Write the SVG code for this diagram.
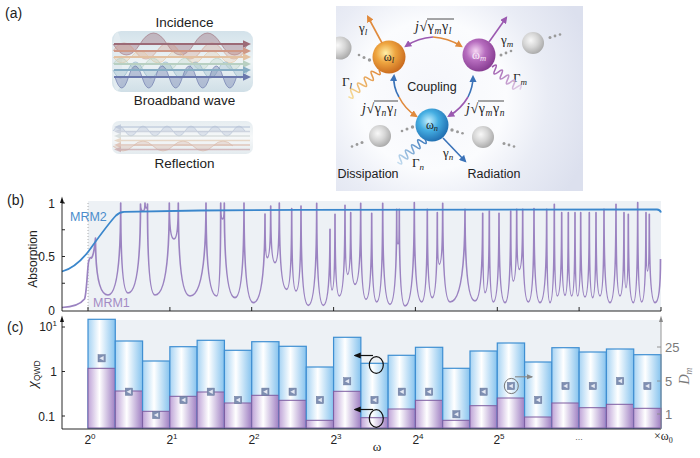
<svg xmlns="http://www.w3.org/2000/svg" width="700" height="458" viewBox="0 0 700 458">
<style>
.t{font-family:"Liberation Sans",Arial,sans-serif;fill:#222}
.lb{font-size:13.5px}
.tk{font-size:12px}
.m{font-family:"Liberation Serif","Times New Roman",serif;fill:#222}
.gr{fill:#7a7a7a}
.ax{stroke:#111;stroke-width:0.9;fill:none}
.bb{fill:url(#gB);stroke:#3f8fd2;stroke-width:1.2}
.pb{fill:url(#gP);stroke:#7e5ca0;stroke-width:1}
.dots circle{fill:#9a9a9a}
.wv{stroke-width:1}
.ar{fill:none;stroke-width:1.6}
.sq{fill:none;stroke-width:1.6}
</style>
<defs>
<linearGradient id="gB" x1="0" y1="0" x2="1" y2="0"><stop offset="0" stop-color="#a6d3f3"/><stop offset="0.42" stop-color="#ffffff"/><stop offset="1" stop-color="#86c3ee"/></linearGradient>
<linearGradient id="gP" x1="0" y1="0" x2="1" y2="0"><stop offset="0" stop-color="#bea3d7"/><stop offset="0.42" stop-color="#ffffff"/><stop offset="1" stop-color="#9e7ec2"/></linearGradient>
<linearGradient id="cyl" x1="0" y1="0" x2="0" y2="1"><stop offset="0" stop-color="#d3e2ea"/><stop offset="0.5" stop-color="#eef4f6"/><stop offset="1" stop-color="#d0dfe7"/></linearGradient>
<linearGradient id="cyl2" x1="0" y1="0" x2="0" y2="1"><stop offset="0" stop-color="#e6edf1"/><stop offset="0.5" stop-color="#f6f8f9"/><stop offset="1" stop-color="#e4ebef"/></linearGradient>
<radialGradient id="boxG" cx="432" cy="95" r="165" gradientUnits="userSpaceOnUse"><stop offset="0" stop-color="#f5f6fb"/><stop offset="0.45" stop-color="#fbfcfe"/><stop offset="0.7" stop-color="#e9ecf5"/><stop offset="1" stop-color="#dce0ee"/></radialGradient>
<radialGradient id="sO" cx="0.4" cy="0.38" r="0.65"><stop offset="0" stop-color="#fff0a8"/><stop offset="0.45" stop-color="#eea540"/><stop offset="1" stop-color="#c8681c"/></radialGradient>
<radialGradient id="sP" cx="0.4" cy="0.38" r="0.65"><stop offset="0" stop-color="#f6d6f4"/><stop offset="0.45" stop-color="#b66cbe"/><stop offset="1" stop-color="#853b90"/></radialGradient>
<radialGradient id="sN" cx="0.4" cy="0.38" r="0.65"><stop offset="0" stop-color="#c4f0ff"/><stop offset="0.45" stop-color="#45aee2"/><stop offset="1" stop-color="#1f6db0"/></radialGradient>
<radialGradient id="sG" cx="0.4" cy="0.38" r="0.65"><stop offset="0" stop-color="#f8f8f8"/><stop offset="0.5" stop-color="#d6d6d6"/><stop offset="1" stop-color="#a9a9a9"/></radialGradient>
<linearGradient id="qO" x1="0" y1="0" x2="40" y2="0" gradientUnits="userSpaceOnUse"><stop offset="0" stop-color="#e0883a"/><stop offset="1" stop-color="#f6dc98"/></linearGradient>
<linearGradient id="qP" x1="0" y1="0" x2="36" y2="0" gradientUnits="userSpaceOnUse"><stop offset="0" stop-color="#9b56ab"/><stop offset="1" stop-color="#e2cfe8"/></linearGradient>
<linearGradient id="qN" x1="0" y1="0" x2="36" y2="0" gradientUnits="userSpaceOnUse"><stop offset="0" stop-color="#3a78bc"/><stop offset="1" stop-color="#c6def0"/></linearGradient>
<marker id="aO" viewBox="0 0 10 10" refX="7" refY="5" markerWidth="4.5" markerHeight="4.5" orient="auto"><path d="M0,0 L10,5 L0,10 z" fill="#e08a3c"/></marker>
<marker id="aP" viewBox="0 0 10 10" refX="7" refY="5" markerWidth="4.5" markerHeight="4.5" orient="auto"><path d="M0,0 L10,5 L0,10 z" fill="#9b59b0"/></marker>
<marker id="aB" viewBox="0 0 10 10" refX="7" refY="5" markerWidth="4.5" markerHeight="4.5" orient="auto"><path d="M0,0 L10,5 L0,10 z" fill="#3a72b8"/></marker>
<marker id="aK" viewBox="0 0 10 10" refX="8" refY="5" markerWidth="6" markerHeight="6" orient="auto"><path d="M0,1 L10,5 L0,9 z" fill="#111"/></marker>
<marker id="aG" viewBox="0 0 10 10" refX="8" refY="5" markerWidth="6" markerHeight="6" orient="auto"><path d="M0,1 L10,5 L0,9 z" fill="#888"/></marker>
<clipPath id="boxClip"><rect x="336" y="6" width="247" height="185"/></clipPath>
<g id="mk"><rect x="-3.6" y="-3.6" width="7.2" height="7.2" fill="#7f8fb2" stroke="#66769a" stroke-width="0.5"/><polygon points="2,-2.3 2,2.3 -2.3,0" fill="#e4e8f2"/></g>
</defs>
<rect width="700" height="458" fill="#fff"/>

<!-- Panel (a) left -->
<g id="panel-a-left">
<text class="t" x="5" y="18" font-size="14">(a)</text>
<text class="t lb" x="184.5" y="27" text-anchor="middle">Incidence</text>
<rect x="112" y="31" width="141" height="61" rx="9" fill="url(#cyl)"/>
<ellipse cx="117" cy="61.5" rx="5" ry="29.5" fill="#e2ebf0"/>
<path class="wv" d="M113,44 Q126.5,66 140,44 T167,44 T194,44 T221,44 T248,44" fill="#9c6a76" fill-opacity="0.38" stroke="#9c6a76" stroke-opacity="0.6"/>
<path class="wv" d="M113,51 Q124,35 135,51 T157,51 T179,51 T201,51 T223,51 T245,51" fill="#d29c88" fill-opacity="0.32" stroke="#d29c88" stroke-opacity="0.6"/>
<path class="wv" d="M113,57 Q122,69 131,57 T149,57 T167,57 T185,57 T203,57 T221,57 T239,57" fill="#e6c6a4" fill-opacity="0.3" stroke="#e6c6a4" stroke-opacity="0.6"/>
<path class="wv" d="M113,64 Q121,52 129,64 T145,64 T161,64 T177,64 T193,64 T209,64 T225,64 T241,64" fill="#b6cfc0" fill-opacity="0.3" stroke="#b6cfc0" stroke-opacity="0.6"/>
<path class="wv" d="M113,70 Q120.5,86 128,70 T143,70 T158,70 T173,70 T188,70 T203,70 T218,70 T233,70 T248,70" fill="#8db3c7" fill-opacity="0.3" stroke="#8db3c7" stroke-opacity="0.6"/>
<path class="wv" d="M115,77 Q121.75,99 128.5,77 T142,77 T155.5,77 T169,77 T182.5,77 T196,77 T209.5,77 T223,77 T236.5,77" fill="#6f7cae" fill-opacity="0.38" stroke="#6f7cae" stroke-opacity="0.7"/>
<g stroke-width="1.8">
<line x1="114" y1="44" x2="245" y2="44" stroke="#9c6a76"/><polygon points="243,40.3 251,44 243,47.7" fill="#9c6a76"/>
<line x1="114" y1="51" x2="245" y2="51" stroke="#cf9886"/><polygon points="243,47.3 251,51 243,54.7" fill="#cf9886"/>
<line x1="114" y1="57" x2="245" y2="57" stroke="#e3c2a2"/><polygon points="243,53.3 251,57 243,60.7" fill="#e3c2a2"/>
<line x1="114" y1="64" x2="245" y2="64" stroke="#b8d0c2"/><polygon points="243,60.3 251,64 243,67.7" fill="#b8d0c2"/>
<line x1="114" y1="70" x2="245" y2="70" stroke="#86adc4"/><polygon points="243,66.3 251,70 243,73.7" fill="#86adc4"/>
<line x1="114" y1="77" x2="245" y2="77" stroke="#6a78ad"/><polygon points="243,73.3 251,77 243,80.7" fill="#6a78ad"/>
</g>
<text class="t lb" x="184.5" y="105" text-anchor="middle">Broadband wave</text>
<rect x="112" y="121" width="141" height="33" rx="7" fill="url(#cyl2)"/>
<path class="wv" d="M113,131 Q119,121 125,131 T137,131 T149,131 T161,131 T173,131 T185,131 T197,131 T209,131 T221,131 T233,131 T245,131" fill="#aab7cf" fill-opacity="0.3" stroke="#aab7cf" stroke-opacity="0.5"/>
<path class="wv" d="M113,146 Q123,156 133,146 T153,146 T173,146 T193,146 T213,146 T233,146" fill="#d5ab98" fill-opacity="0.3" stroke="#d5ab98" stroke-opacity="0.5"/>
<g stroke-width="1.3" opacity="0.75">
<line x1="119" y1="127" x2="250" y2="127" stroke="#b9c4d8"/><polygon points="121,124.3 114,127 121,129.7" fill="#b9c4d8"/>
<line x1="119" y1="131.5" x2="250" y2="131.5" stroke="#c3cad8"/><polygon points="121,128.8 114,131.5 121,134.2" fill="#c3cad8"/>
<line x1="119" y1="136" x2="250" y2="136" stroke="#cfd6d6"/><polygon points="121,133.3 114,136 121,138.7" fill="#cfd6d6"/>
<line x1="119" y1="140.5" x2="250" y2="140.5" stroke="#e3cdb8"/><polygon points="121,137.8 114,140.5 121,143.2" fill="#e3cdb8"/>
<line x1="119" y1="145" x2="250" y2="145" stroke="#dbb7a8"/><polygon points="121,142.3 114,145 121,147.7" fill="#dbb7a8"/>
<line x1="119" y1="149.5" x2="250" y2="149.5" stroke="#c9a8ac"/><polygon points="121,146.8 114,149.5 121,152.2" fill="#c9a8ac"/>
</g>
<text class="t lb" x="184.5" y="168" text-anchor="middle">Reflection</text>
</g>

<!-- Panel (a) right: coupled resonators -->
<g id="panel-a-right">
<rect x="336" y="6" width="247" height="185" fill="url(#boxG)"/>
<g clip-path="url(#boxClip)">
<circle cx="340" cy="48" r="11.5" fill="url(#sG)"/>
</g>
<circle cx="533" cy="43" r="11" fill="url(#sG)"/>
<circle cx="380" cy="136" r="11" fill="url(#sG)"/>
<circle cx="483" cy="137" r="11" fill="url(#sG)"/>
<g class="dots">
<circle cx="359" cy="55" r="1.3"/><circle cx="364" cy="57.5" r="1.5"/><circle cx="369.5" cy="60" r="1.7"/>
<circle cx="501" cy="55" r="1.5"/><circle cx="506" cy="53" r="1.4"/><circle cx="511" cy="51" r="1.3"/>
<circle cx="550" cy="37.5" r="1.5"/><circle cx="555" cy="36" r="1.4"/><circle cx="560" cy="34.5" r="1.3"/>
<circle cx="402" cy="131" r="1.3"/><circle cx="407" cy="129" r="1.5"/><circle cx="412.5" cy="127" r="1.7"/>
<circle cx="352" cy="146.5" r="1.3"/><circle cx="357" cy="144.5" r="1.4"/><circle cx="362" cy="142.5" r="1.5"/>
<circle cx="452" cy="130" r="1.7"/><circle cx="457.5" cy="131.7" r="1.5"/><circle cx="462.5" cy="133.3" r="1.3"/>
<circle cx="504" cy="143.5" r="1.5"/><circle cx="509" cy="145" r="1.4"/><circle cx="514" cy="146.5" r="1.3"/>
</g>
<g id="node-l"><circle cx="389" cy="57" r="16.5" fill="url(#sO)"/><text class="m" x="389" y="60.5" font-size="12" text-anchor="middle">ω<tspan dy="2.5" font-size="8.5" font-style="italic">l</tspan></text></g>
<g id="node-m"><circle cx="479" cy="55" r="16.5" fill="url(#sP)"/><text class="m" x="479" y="58.5" font-size="12" text-anchor="middle" style="fill:#fbeefa">ω<tspan dy="2.5" font-size="8.5" font-style="italic">m</tspan></text></g>
<g id="node-n"><circle cx="432" cy="125" r="16.5" fill="url(#sN)"/><text class="m" x="432" y="128.5" font-size="12" text-anchor="middle">ω<tspan dy="2.5" font-size="8.5" font-style="italic">n</tspan></text></g>
<text class="m" x="359" y="32" font-size="13">γ<tspan dy="2.5" font-size="9" font-style="italic">l</tspan></text>
<text class="m" x="501" y="44" font-size="13">γ<tspan dy="2.5" font-size="9" font-style="italic">m</tspan></text>
<text class="m" x="443" y="157" font-size="13">γ<tspan dy="2.5" font-size="9" font-style="italic">n</tspan></text>
<text class="m" x="342" y="86" font-size="13">Γ<tspan dy="2.5" font-size="9" font-style="italic">l</tspan></text>
<text class="m" x="513" y="82" font-size="13">Γ<tspan dy="2.5" font-size="9" font-style="italic">m</tspan></text>
<text class="m" x="412" y="167" font-size="13">Γ<tspan dy="2.5" font-size="9" font-style="italic">n</tspan></text>
<text class="m" x="415" y="31" font-size="14" letter-spacing="0.6"><tspan font-style="italic">j</tspan>√γ<tspan dy="3" font-size="9.5" font-style="italic">m</tspan><tspan dy="-3">γ</tspan><tspan dy="3" font-size="9.5" font-style="italic">l</tspan></text>
<text class="m" x="362" y="113" font-size="14" letter-spacing="0.6"><tspan font-style="italic">j</tspan>√γ<tspan dy="3" font-size="9.5" font-style="italic">n</tspan><tspan dy="-3">γ</tspan><tspan dy="3" font-size="9.5" font-style="italic">l</tspan></text>
<text class="m" x="466" y="113" font-size="14" letter-spacing="0.6"><tspan font-style="italic">j</tspan>√γ<tspan dy="3" font-size="9.5" font-style="italic">m</tspan><tspan dy="-3">γ</tspan><tspan dy="3" font-size="9.5" font-style="italic">n</tspan></text>
<g stroke="#222" stroke-width="0.8">
<line x1="427" y1="19" x2="454" y2="19"/>
<line x1="374" y1="101" x2="398" y2="101"/>
<line x1="478" y1="101" x2="504" y2="101"/>
</g>
<text class="t" x="432" y="91" font-size="12.5" text-anchor="middle">Coupling</text>
<text class="t" x="368" y="178" font-size="12.5" text-anchor="middle">Dissipation</text>
<text class="t" x="494" y="178" font-size="12.5" text-anchor="middle">Radiation</text>
</g>

<g id="connectors">
<path class="ar" d="M433,37 Q418,38 406,46" stroke="#9b59b0" marker-end="url(#aP)"/>
<path class="ar" d="M433,37 Q448,38 461,46" stroke="#e08a3c" marker-end="url(#aO)"/>
<path class="ar" d="M399,97 Q393,87 394,76" stroke="#3a72b8" marker-end="url(#aB)"/>
<path class="ar" d="M399,97 Q405,109 416,116" stroke="#e08a3c" marker-end="url(#aO)"/>
<path class="ar" d="M468,97 Q473,87 473,77" stroke="#3a72b8" marker-end="url(#aB)"/>
<path class="ar" d="M468,97 Q461,109 449,116" stroke="#9b59b0" marker-end="url(#aP)"/>
<line class="ar" x1="382" y1="43" x2="368" y2="17" stroke="#e08a3c" marker-end="url(#aO)"/>
<line class="ar" x1="489" y1="42" x2="506" y2="18" stroke="#9b59b0" marker-end="url(#aP)"/>
<line class="ar" x1="443" y1="138" x2="465" y2="161" stroke="#3a72b8" marker-end="url(#aB)"/>
<path class="sq" d="M0,0 q2.25,-8 4.5,0 t4.5,0 t4.5,0 t4.5,0 t4.5,0 t4.5,0 t4.5,0 t4.5,0 t4.5,0" stroke="url(#qO)" transform="translate(379,70) rotate(139)"/>
<path class="sq" d="M0,0 q2,-8 4,0 t4,0 t4,0 t4,0 t4,0 t4,0 t4,0 t4,0 t4,0" stroke="url(#qP)" transform="translate(492,67) rotate(39)"/>
<path class="sq" d="M0,0 q2,-8 4,0 t4,0 t4,0 t4,0 t4,0 t4,0 t4,0 t4,0 t4,0" stroke="url(#qN)" transform="translate(425,139) rotate(140)"/>
</g>

<!-- Panel (b) -->
<g id="panel-b">
<text class="t" x="7" y="205" font-size="14">(b)</text>
<rect x="88" y="201" width="573" height="110" fill="#edf1f5"/>
<line x1="88" y1="203" x2="88" y2="311" stroke="#9a9a9a" stroke-width="0.8" stroke-dasharray="1,2"/>
<path d="M62,307.5 C72,307 80,305 84.5,299 C86.5,295 87.2,272 88.5,262 Q90,256 91.5,258 Q94,255 95.5,238 Q95.5,295 108,295 Q120.7,295 120.7,203 Q120.7,293 128,293 Q140.5,293 140.5,204 Q140.5,211 143,211 Q145,211 145,203 Q145,208 146.5,208 Q147.5,208 147.5,204 Q147.5,295 155,295 Q169.3,295 169.3,203 Q169.3,239 174,239 Q178.3,239 178.3,203 Q178.3,296 190,296 Q206,296 206,203 Q206,296 216.7,296 Q220.7,296 220.7,203 Q220.7,219 222.5,219 Q224.3,219 224.3,203 Q224.3,297.7 235,297.7 Q244,297.7 244,203 Q244,302.7 253.3,302.7 Q265,302.7 265,214 Q265,257.7 267.3,257.7 Q270.7,257.7 270.7,206 Q270.7,262.7 275,262.7 Q279.3,262.7 279.3,203 Q279.3,289.3 286.7,289.3 Q291.7,289.3 291.7,208.7 Q291.7,291 296,291 Q301,291 301,206 Q301,305.3 308.3,305.3 Q316.7,305.3 316.7,203.3 Q316.7,305.3 323.3,305.3 Q330,305.3 330,229.3 Q330,290 332,290 Q335,290 335,214.3 Q335,296 339.3,296 Q345,296 345,205.3 Q345,274.3 347.7,274.3 Q350.7,274.3 350.7,212.7 Q350.7,284.3 355,284.3 Q360.7,284.3 360.7,203.3 Q360.7,299.3 366,299.3 Q371.7,299.3 371.7,213.3 Q371.7,302 376.7,302 Q382.7,302 382.7,203.3 Q382.7,304.3 390,304.3 Q396.7,304.3 396.7,209.3 Q396.7,244 398,244 Q399.3,244 399.3,209.3 Q399.3,306 405,306 Q414.3,306 414.3,202.7 Q414.3,302 421.7,302 Q427.3,302 427.3,209.3 Q427.3,297.7 432.3,297.7 Q437.3,297.7 437.3,212.7 Q437.3,264.3 439.3,264.3 Q442.7,264.3 442.7,203.3 Q442.7,302 450,302 Q465,302 465,209.3 Q465,301 475,301 Q482.7,301 482.7,213.3 Q482.7,292.7 485,292.7 Q489.3,292.7 489.3,211 Q489.3,302 493.3,302 Q499,302 499,213.3 Q499,302.7 505,302.7 Q510.7,302.7 510.7,211 Q510.7,281 513.3,281 Q516.7,281 516.7,209.3 Q516.7,269.3 519.3,269.3 Q522.7,269.3 522.7,209.3 Q522.7,302 528.3,302 Q534,302 534,208.7 Q534,302.7 540,302.7 Q546.7,302.7 546.7,209.3 Q546.7,302.7 550,302.7 Q554.3,302.7 554.3,204.3 Q554.3,296 557.3,296 Q561.7,296 561.7,212.7 Q561.7,295.3 565,295.3 Q568.3,295.3 568.3,212.7 Q568.3,296 571.7,296 Q575,296 575,212.7 Q575,296 577.7,296 Q580.7,296 580.7,212.7 Q580.7,297 585,297 Q589.3,297 589.3,212.7 Q589.3,297.7 592.7,297.7 Q596,297.7 596,212.7 Q596,296 600,296 Q604,296 604,209.3 Q604,302.7 610,302.7 Q616,302.7 616,204.3 Q616,296 620,296 Q624,296 624,212.7 Q624,287.7 626,287.7 Q628.3,287.7 628.3,214.3 Q628.3,302.7 633.3,302.7 Q637.7,302.7 637.7,202.7 Q637.7,302 641.7,302 Q646,302 646,212.7 Q646,271 647.5,271 Q649.3,271 649.3,214.3 Q649.3,302.7 655,302.7 Q660.5,302.7 660.5,259" fill="none" stroke="#9b83c1" stroke-width="1.7" stroke-linejoin="round"/>
<path d="M62,271.5 C72,269 80,262 88,252 C96,241 108,224 116,215.5 Q119.5,212 124,211.8 L200,210.5 L300,209.8 L657,209.5 Q660,209.6 661,212.5" fill="none" stroke="#3b87cc" stroke-width="1.8"/>
<line class="ax" x1="62" y1="311" x2="62" y2="201"/>
<polygon points="62,196.5 60,203 64,203" fill="#111"/>
<line class="ax" x1="62" y1="311" x2="661" y2="311"/>
<path class="ax" d="M62,203 H65 M62,229.75 H65 M62,256.5 H65 M62,283.25 H65 M88,311 V307 M169.9,311 V307 M251.7,311 V307 M333.6,311 V307 M415.4,311 V307 M497.3,311 V307 M579.1,311 V307 M661,311 V307"/>
<text class="t tk" x="55" y="208" text-anchor="end">1</text>
<text class="t tk" x="55" y="261" text-anchor="end">0.5</text>
<text class="t tk" x="55" y="315" text-anchor="end">0</text>
<text class="t" font-size="12" transform="translate(37,259) rotate(-90)" text-anchor="middle">Absorption</text>
<text class="t" x="70" y="221" font-size="12.5" style="fill:#4a8ccc">MRM2</text>
<text class="t" x="93" y="307" font-size="12.5" style="fill:#a38bc4">MRM1</text>
</g>

<!-- Panel (c) -->
<g id="panel-c">
<text class="t" x="7" y="332" font-size="14">(c)</text>
<rect x="88" y="320" width="573" height="108" fill="#edf1f5"/>
<g id="bars">
<rect class="bb" x="88" y="319.3" width="27.29" height="108.7"/><rect class="pb" x="88" y="368.3" width="27.29" height="59.7"/>
<rect class="bb" x="115.29" y="341" width="27.29" height="87"/><rect class="pb" x="115.29" y="391" width="27.29" height="37"/>
<rect class="bb" x="142.57" y="361" width="27.29" height="67"/><rect class="pb" x="142.57" y="411.3" width="27.29" height="16.7"/>
<rect class="bb" x="169.86" y="346.7" width="27.29" height="81.3"/><rect class="pb" x="169.86" y="396.3" width="27.29" height="31.7"/>
<rect class="bb" x="197.14" y="340.3" width="27.29" height="87.7"/><rect class="pb" x="197.14" y="392" width="27.29" height="36"/>
<rect class="bb" x="224.43" y="350.3" width="27.29" height="77.7"/><rect class="pb" x="224.43" y="403" width="27.29" height="25"/>
<rect class="bb" x="251.71" y="341.7" width="27.29" height="86.3"/><rect class="pb" x="251.71" y="395.3" width="27.29" height="32.7"/>
<rect class="bb" x="279" y="346.3" width="27.29" height="81.7"/><rect class="pb" x="279" y="400.3" width="27.29" height="27.7"/>
<rect class="bb" x="306.29" y="367" width="27.29" height="61"/><rect class="pb" x="306.29" y="420.3" width="27.29" height="7.7"/>
<rect class="bb" x="333.57" y="337.3" width="27.29" height="90.7"/><rect class="pb" x="333.57" y="391.3" width="27.29" height="36.7"/>
<rect class="bb" x="360.86" y="363.3" width="27.29" height="64.7"/><rect class="pb" x="360.86" y="417.7" width="27.29" height="10.3"/>
<rect class="bb" x="388.14" y="355.3" width="27.29" height="72.7"/><rect class="pb" x="388.14" y="409" width="27.29" height="19"/>
<rect class="bb" x="415.43" y="347.3" width="27.29" height="80.7"/><rect class="pb" x="415.43" y="400.3" width="27.29" height="27.7"/>
<rect class="bb" x="442.71" y="368.3" width="27.29" height="59.7"/><rect class="pb" x="442.71" y="420.3" width="27.29" height="7.7"/>
<rect class="bb" x="470" y="351" width="27.29" height="77"/><rect class="pb" x="470" y="405.7" width="27.29" height="22.3"/>
<rect class="bb" x="497.29" y="343" width="27.29" height="85"/><rect class="pb" x="497.29" y="398" width="27.29" height="30"/>
<rect class="bb" x="524.57" y="362" width="27.29" height="66"/><rect class="pb" x="524.57" y="417" width="27.29" height="11"/>
<rect class="bb" x="551.86" y="347.7" width="27.29" height="80.3"/><rect class="pb" x="551.86" y="403" width="27.29" height="25"/>
<rect class="bb" x="579.14" y="352" width="27.29" height="76"/><rect class="pb" x="579.14" y="407.7" width="27.29" height="20.3"/>
<rect class="bb" x="606.43" y="349" width="27.29" height="79"/><rect class="pb" x="606.43" y="404.3" width="27.29" height="23.7"/>
<rect class="bb" x="633.71" y="354.7" width="27.29" height="73.3"/><rect class="pb" x="633.71" y="408.3" width="27.29" height="19.7"/>
</g>
<g id="markers">
<use href="#mk" x="101.6" y="358.3"/><use href="#mk" x="128.9" y="391.7"/><use href="#mk" x="156.2" y="415"/>
<use href="#mk" x="183.5" y="400"/><use href="#mk" x="210.8" y="391.7"/><use href="#mk" x="238.1" y="400"/>
<use href="#mk" x="265.4" y="391.7"/><use href="#mk" x="292.6" y="391.7"/><use href="#mk" x="319.9" y="400"/>
<use href="#mk" x="347.2" y="381.3"/><use href="#mk" x="374.5" y="400"/><use href="#mk" x="401.8" y="391.7"/>
<use href="#mk" x="429.1" y="391.7"/><use href="#mk" x="456.4" y="414.3"/><use href="#mk" x="483.6" y="391.7"/>
<use href="#mk" x="510.9" y="386"/><use href="#mk" x="538.2" y="400"/><use href="#mk" x="565.5" y="386"/>
<use href="#mk" x="592.8" y="386"/><use href="#mk" x="620.1" y="381"/><use href="#mk" x="647.4" y="386"/>
</g>
<g id="annot">
<ellipse cx="376.3" cy="365" rx="7" ry="8.4" fill="none" stroke="#111" stroke-width="1.2"/>
<ellipse cx="376.3" cy="418.5" rx="7" ry="8.8" fill="none" stroke="#111" stroke-width="1.2"/>
<line x1="373" y1="355.5" x2="355" y2="355.5" stroke="#111" stroke-width="1.2" marker-end="url(#aK)"/>
<line x1="373" y1="409.5" x2="355" y2="409.5" stroke="#111" stroke-width="1.2" marker-end="url(#aK)"/>
<ellipse cx="511.3" cy="386" rx="7" ry="7.6" fill="none" stroke="#777" stroke-width="1"/>
<line x1="515" y1="376.8" x2="532" y2="376.8" stroke="#888" stroke-width="1.1" marker-end="url(#aG)"/>
</g>
<line class="ax" x1="62" y1="429" x2="62" y2="320"/>
<polygon points="62,315.5 60,322 64,322" fill="#111"/>
<line class="ax" x1="62" y1="429" x2="661" y2="429"/>
<line x1="661" y1="429" x2="661" y2="320" stroke="#8a8a8a" stroke-width="0.9"/>
<polygon points="661,315.5 659,322 663,322" fill="#8a8a8a"/>
<path class="ax" d="M62,327 H65 M62,371.5 H65 M62,416 H65"/>
<path d="M661,347 H657 M661,381 H657 M661,414 H657" stroke="#8a8a8a" stroke-width="0.9"/>
<text class="t tk" x="57" y="331" text-anchor="end">10<tspan dy="-5" font-size="8">1</tspan></text>
<text class="t tk" x="57" y="376" text-anchor="end">1</text>
<text class="t tk" x="55" y="420.5" text-anchor="end">0.1</text>
<text transform="translate(37,374) rotate(-90)" text-anchor="middle"><tspan class="m" font-size="15" font-style="italic">χ</tspan><tspan class="t" font-size="8.5" dy="3">QWD</tspan></text>
<text class="t gr" x="665" y="351.5" font-size="13">25</text>
<text class="t gr" x="665" y="385.5" font-size="13">5</text>
<text class="t gr" x="665" y="418.5" font-size="13">1</text>
<text transform="translate(689,376) rotate(-90)" text-anchor="middle" class="m gr" font-size="14"><tspan font-style="italic">D</tspan><tspan dy="3" font-size="9.5" font-style="italic">m</tspan></text>
<g class="t tk" text-anchor="middle">
<text x="90" y="444">2<tspan dy="-5" font-size="8">0</tspan></text>
<text x="172" y="444">2<tspan dy="-5" font-size="8">1</tspan></text>
<text x="254" y="444">2<tspan dy="-5" font-size="8">2</tspan></text>
<text x="336" y="444">2<tspan dy="-5" font-size="8">3</tspan></text>
<text x="418" y="444">2<tspan dy="-5" font-size="8">4</tspan></text>
<text x="499" y="444">2<tspan dy="-5" font-size="8">5</tspan></text>
</g>
<text class="t" x="579" y="440" font-size="9" style="fill:#666" text-anchor="middle">...</text>
<text class="m" x="377" y="451" font-size="13" text-anchor="middle">ω</text>
<text class="m" x="654" y="440" font-size="12">×ω<tspan dy="2.5" font-size="8">0</tspan></text>
</g>
</svg>
